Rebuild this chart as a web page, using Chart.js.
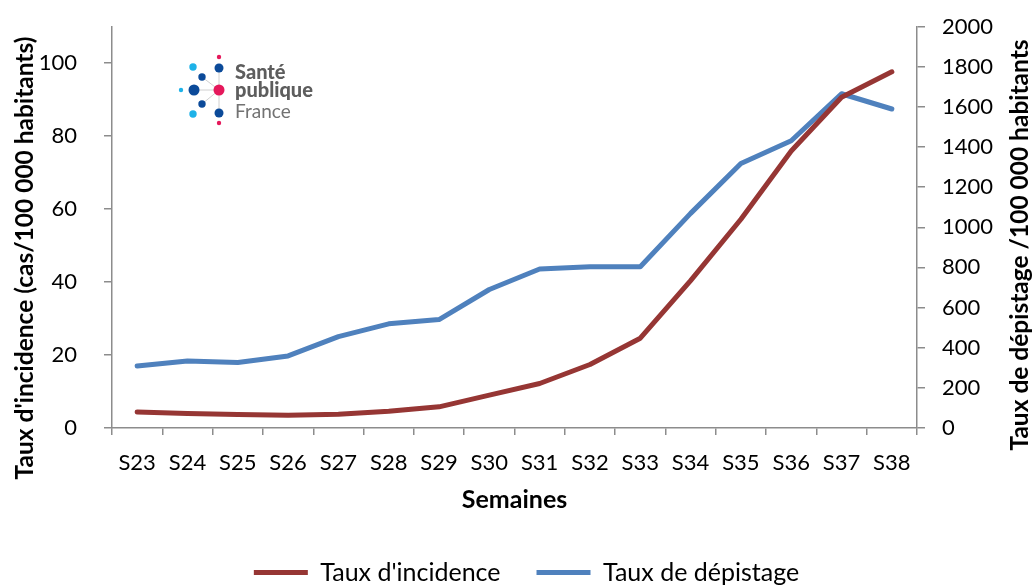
<!DOCTYPE html>
<html>
<head>
<meta charset="utf-8">
<script src="https://cdn.jsdelivr.net/npm/chart.js@4.4.1/dist/chart.umd.min.js"></script>
<style>
html,body{margin:0;padding:0;background:#fff;}
#wrap{width:1033px;height:586px;position:relative;}
</style>
</head>
<body>
<div id="wrap"><canvas id="c" width="1033" height="586"></canvas></div>
<script>
const categories = ['S23','S24','S25','S26','S27','S28','S29','S30','S31','S32','S33','S34','S35','S36','S37','S38'];
const incidence = [4.4, 4.0, 3.7, 3.5, 3.8, 4.6, 5.8, 9.0, 12.2, 17.4, 24.6, 40.4, 57.2, 75.9, 90.6, 97.6];
const depistage = [309, 334, 326, 359, 455, 519, 540, 690, 792, 803, 803, 1069, 1318, 1431, 1665, 1589];
const leftTicks = [0, 20, 40, 60, 80, 100];
const rightTicks = [0, 200, 400, 600, 800, 1000, 1200, 1400, 1600, 1800, 2000];
const leftTitle = "Taux d'incidence (cas/100 000 habitants)";
const rightTitle = 'Taux de dépistage /100 000 habitants';

const FONT = 'Lato, "Open Sans", sans-serif';
const AXIS = '#8c8c8c';

const decorPlugin = {
  id: 'decor',
  afterLayout(chart) {
    const lg = chart.legend;
    if (lg) { lg.top += 9; lg.bottom += 9; lg.left += 10; lg.right += 10; }
  },
  afterDraw(chart) {
    const ctx = chart.ctx;
    ctx.save();
    ctx.fillStyle = '#000';
    ctx.font = 'bold 24.5px ' + FONT;
    ctx.textAlign = 'center';
    ctx.textBaseline = 'middle';
    ctx.save(); ctx.translate(25, 258); ctx.rotate(-Math.PI / 2); ctx.fillText(leftTitle, 0, 0); ctx.restore();
    ctx.save(); ctx.translate(1020, 245); ctx.rotate(-Math.PI / 2); ctx.fillText(rightTitle, 0, 0); ctx.restore();

    const cx = 219, cy = 90;
    const dots = [
      [219, 57, 2.2, '#e5185b'], [219, 68, 4.5, '#0b4a99'], [193, 67, 3.7, '#1eb2e8'],
      [202, 77, 3.7, '#0b4a99'], [194, 90, 5.5, '#0b4a99'], [181, 90, 2.2, '#1eb2e8'],
      [219, 90, 5.5, '#e5185b'], [202, 104, 3.7, '#0b4a99'], [193, 114, 3.7, '#1eb2e8'],
      [219, 113, 4.5, '#0b4a99'], [219, 123, 2.2, '#e5185b']
    ];
    ctx.strokeStyle = '#d0d0d0';
    ctx.lineWidth = 1;
    [[219,68],[202,77],[194,90],[202,104],[219,113]].forEach(p => {
      ctx.beginPath(); ctx.moveTo(cx, cy); ctx.lineTo(p[0], p[1]); ctx.stroke();
    });
    dots.forEach(d => {
      ctx.beginPath(); ctx.arc(d[0], d[1], d[2], 0, Math.PI * 2);
      ctx.fillStyle = d[3]; ctx.fill();
    });
    ctx.fillStyle = '#5d5d5d';
    ctx.textBaseline = 'alphabetic';
    ctx.textAlign = 'left';
    ctx.font = '900 20px ' + FONT;
    ctx.fillText('Santé', 235, 79);
    ctx.fillText('publique', 235, 97);
    ctx.fillStyle = '#727272';
    ctx.font = '19px ' + FONT;
    ctx.fillText('France', 235, 118);
    ctx.restore();
  }
};

function fixY(width) {
  return function (s) { s.width = width; s.paddingTop = 0; s.paddingBottom = 0; };
}

new Chart(document.getElementById('c'), {
  type: 'line',
  data: {
    labels: categories,
    datasets: [
      {
        label: "Taux d'incidence",
        data: incidence,
        yAxisID: 'y',
        borderColor: '#963634',
        backgroundColor: '#963634',
        borderWidth: 5,
        pointRadius: 0,
        tension: 0,
        borderCapStyle: 'round',
        borderJoinStyle: 'round'
      },
      {
        label: 'Taux de dépistage',
        data: depistage,
        yAxisID: 'y1',
        borderColor: '#4f81bd',
        backgroundColor: '#4f81bd',
        borderWidth: 5,
        pointRadius: 0,
        tension: 0,
        borderCapStyle: 'round',
        borderJoinStyle: 'round'
      }
    ]
  },
  options: {
    responsive: false,
    animation: false,
    devicePixelRatio: 1,
    layout: { padding: { top: 26.5, left: 0, right: 0, bottom: 0 } },
    plugins: {
      tooltip: { enabled: false },
      legend: {
        position: 'bottom',
        labels: {
          usePointStyle: true,
          pointStyle: 'line',
          pointStyleWidth: 54,
          boxHeight: 5,
          font: { family: FONT, size: 25 },
          color: '#000',
          padding: 36
        }
      }
    },
    scales: {
      x: {
        type: 'category',
        offset: true,
        grid: { offset: true, drawOnChartArea: false, drawTicks: true, tickLength: 7, color: AXIS, lineWidth: 1.5 },
        border: { color: AXIS, width: 1.5 },
        ticks: { font: { family: FONT, size: 22 }, color: '#000', padding: 15, maxRotation: 0, autoSkip: false },
        title: { display: true, text: 'Semaines', font: { family: FONT, size: 25, weight: 'bold' }, color: '#000', padding: { top: 4, bottom: 0 } },
        afterFit(s) { s.height = 87; }
      },
      y: {
        position: 'left',
        min: 0, max: 110,
        afterBuildTicks(s) { s.ticks = leftTicks.map(v => ({ value: v })); },
        grid: { drawOnChartArea: false, drawTicks: true, tickLength: 8, color: AXIS, lineWidth: 1.5 },
        border: { color: AXIS, width: 1.5 },
        ticks: { font: { family: FONT, size: 22 }, color: '#000', padding: 27, callback: v => String(v) },
        afterFit: fixY(112)
      },
      y1: {
        position: 'right',
        min: 0, max: 2000,
        afterBuildTicks(s) { s.ticks = rightTicks.map(v => ({ value: v })); },
        grid: { drawOnChartArea: false, drawTicks: true, tickLength: 8, color: AXIS, lineWidth: 1.5 },
        border: { color: AXIS, width: 1.5 },
        ticks: { font: { family: FONT, size: 22 }, color: '#000', padding: 17, callback: v => String(v) },
        afterFit: fixY(116)
      }
    }
  },
  plugins: [decorPlugin]
});
</script>
</body>
</html>
